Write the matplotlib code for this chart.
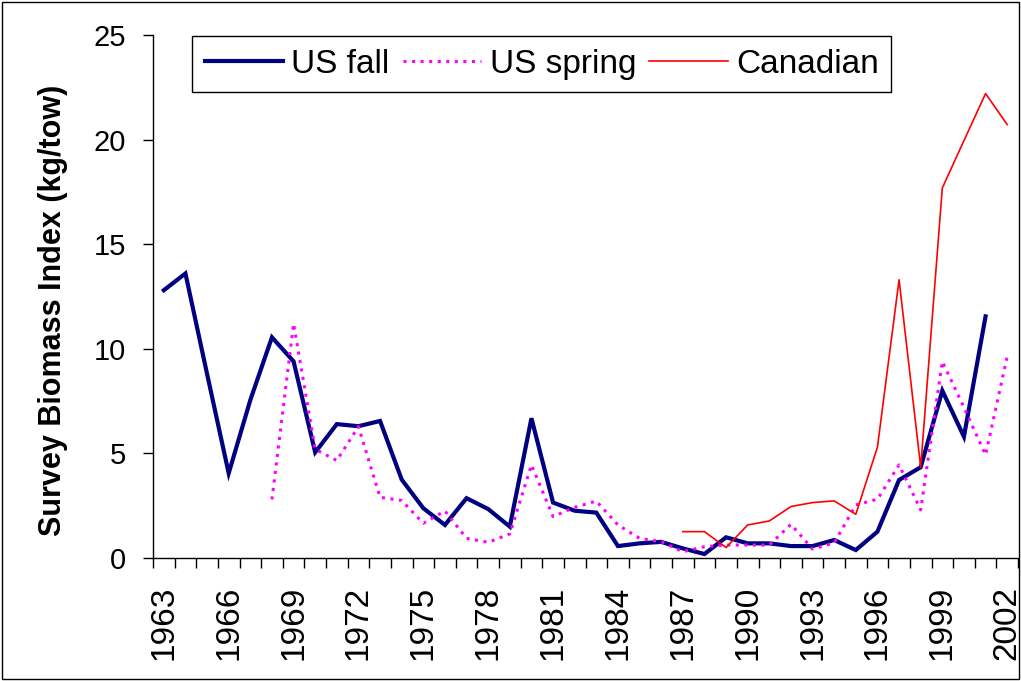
import numpy as np
import matplotlib
matplotlib.use("Agg")
import matplotlib.pyplot as plt
from matplotlib.patches import Rectangle

nan = np.nan
years = list(range(1963, 2003))

us_fall = [12.8, 13.6, 8.8, 4.05, 7.55, 10.55, 9.4, 5.05, 6.4, 6.3, 6.55, 3.75, 2.38,
           1.58, 2.86, 2.34, 1.5, 6.68, 2.65, 2.26, 2.17, 0.57, 0.7, 0.77, 0.46, 0.19,
           0.99, 0.7, 0.7, 0.57, 0.57, 0.86, 0.38, 1.26, 3.73, 4.34, 8.0, 5.8, 11.55, nan]

us_spring = [nan, nan, nan, nan, nan, 2.8, 11.2, 5.2, 4.66, 6.28, 2.9, 2.75, 1.66,
             2.25, 0.94, 0.75, 1.15, 4.45, 1.98, 2.42, 2.72, 1.58, 0.94, 0.78, 0.3, 0.54,
             0.62, 0.62, 0.62, 1.61, 0.43, 0.72, 2.54, 2.81, 4.45, 2.3, 9.39, 7.2, 4.93, 9.63]

canadian = [nan] * 24 + [1.26, 1.26, 0.5, 1.58, 1.77, 2.46, 2.65, 2.73, 2.09, 5.3,
                         13.3, 4.34, 17.69, 19.95, 22.2, 20.72]

label_years = list(range(1963, 2003, 3))
y_ticks = [0, 5, 10, 15, 20, 25]

plt.rcParams['font.family'] = ['Liberation Sans', 'DejaVu Sans']

fig = plt.figure(figsize=(10.21, 6.81), dpi=100)
ax = fig.add_axes([153/1021, 1 - 558/681, (1018 - 153)/1021, (558 - 35)/681])

ax.plot(years, us_fall, color='#000080', lw=3.0, label='US fall', solid_joinstyle='miter')
ax.plot(years, us_spring, color='#FF00FF', lw=2.2, linestyle=(0, (1, 1.8)), label='US spring')
ax.plot(years, canadian, color='#FF0000', lw=1.2, label='Canadian')

ax.set_xlim(1962.5, 2002.5)
ax.set_ylim(0, 25)
ax.set_yticks(y_ticks)
ax.tick_params(axis='y', direction='out', length=7.2, width=1, labelsize=21, pad=12)

ax.set_xticks([y - 0.5 for y in range(1963, 2004)])
ax.set_xticklabels([])
ax.tick_params(axis='x', which='major', direction='out', length=7.2, width=1)
ax.set_xticks(label_years, minor=True)
ax.set_xticklabels([str(y) for y in label_years], minor=True, rotation=90, fontsize=24)
ax.tick_params(axis='x', which='minor', length=0, pad=20)

for s in ['top', 'right']:
    ax.spines[s].set_visible(False)
for s in ['left', 'bottom']:
    ax.spines[s].set_linewidth(1.0)

ax.set_ylabel('Survey Biomass Index (kg/tow)', fontsize=22, fontweight='bold')
ax.yaxis.set_label_coords(-85/865, (558 - 310)/523)

leg = ax.legend(loc='upper left', bbox_to_anchor=((192 - 153)/865, 1 - 1/523), ncol=3,
                fontsize=24, frameon=True, fancybox=False, framealpha=1,
                edgecolor='black', handlelength=2.35, columnspacing=0.4,
                handletextpad=0.25, borderpad=0.38, borderaxespad=0)
leg.get_frame().set_linewidth(1.0)

fig.patches.append(Rectangle((2/1021, 2/681), 1 - 4/1021, 1 - 4/681, transform=fig.transFigure,
                             fill=False, edgecolor='black', lw=1.0))

fig.savefig('out.png', dpi=100)
